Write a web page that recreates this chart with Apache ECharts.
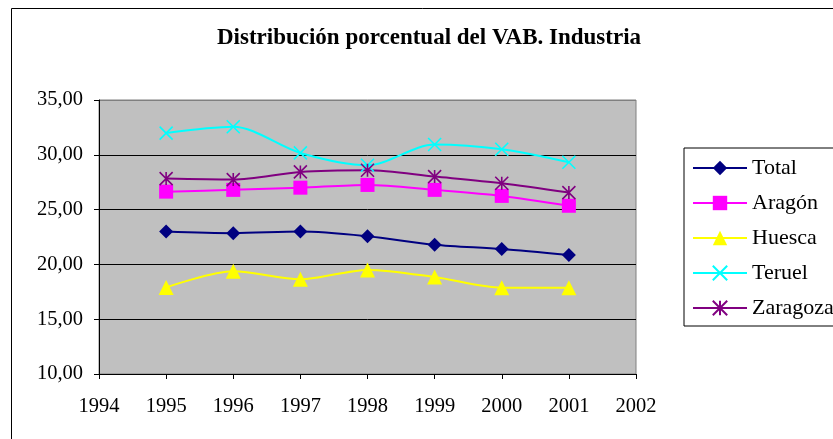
<!DOCTYPE html>
<html>
<head>
<meta charset="utf-8">
<script src="https://cdn.jsdelivr.net/npm/echarts@6/dist/echarts.min.js"></script>
<style>
  html, body { margin: 0; padding: 0; background: #fff; }
  #chart { width: 833px; height: 439px; }
</style>
</head>
<body>
<div id="chart"></div>
<script>
// years on the x value axis
const years = [1995, 1996, 1997, 1998, 1999, 2000, 2001]

const total = [23.0, 22.85, 23.0, 22.57, 21.8, 21.4, 20.85]
const aragon = [26.64, 26.8, 27.0, 27.25, 26.8, 26.25, 25.35]
const huesca = [17.9, 19.37, 18.64, 19.5, 18.85, 17.88, 17.88]
const teruel = [31.98, 32.56, 30.17, 29.05, 30.94, 30.51, 29.32]
const zaragoza = [27.83, 27.74, 28.44, 28.59, 28.01, 27.4, 26.55]

const FONT = '"Liberation Serif", "Times New Roman", serif'

const X_PATH = 'path://M0,0L10,10M10,0L0,10'
const STAR_PATH = 'path://M0,0L10,10M10,0L0,10M5,0L5,10'

function pairs(vals) {
  return years.map((y, i) => [y, vals[i]])
}

function makeSeries(name, vals, color, symbol, size, stroke) {
  return {
    name: name,
    type: 'line',
    data: pairs(vals),
    smooth: 0.3,
    symbol: symbol,
    symbolSize: size,
    showAllSymbol: true,
    lineStyle: { color: color, width: 2 },
    itemStyle: stroke
      ? { color: color, borderColor: color, borderWidth: 1.6 }
      : { color: color },
    emphasis: { disabled: true },
  }
}

const chart = echarts.init(document.getElementById('chart'))
const option = {
  animation: false,
  backgroundColor: '#fff',
  textStyle: { fontFamily: FONT },
  title: {
    text: 'Distribución porcentual del VAB. Industria',
    left: 424,
    top: 22,
    textAlign: 'center',
    textStyle: {
      fontFamily: FONT,
      fontWeight: 'bold',
      fontSize: 23,
      color: '#000',
    },
  },
  graphic: [
    {
      type: 'rect',
      shape: { x: 11.5, y: 8.5, width: 900, height: 500 },
      style: { fill: 'none', stroke: '#000', lineWidth: 1 },
      silent: true,
      z: 0,
    },
  ],
  legend: {
    orient: 'vertical',
    left: 684,
    top: 148,
    itemWidth: 54,
    itemHeight: 18,
    itemGap: 13,
    padding: [9, 10, 7, 8],
    borderColor: '#000',
    borderWidth: 1,
    textStyle: { fontFamily: FONT, fontSize: 22, color: '#000' },
    data: ['Total', 'Aragón', 'Huesca', 'Teruel', 'Zaragoza'],
  },
  grid: {
    left: 99,
    top: 100,
    width: 537,
    height: 274,
    show: true,
    backgroundColor: '#C0C0C0',
    borderColor: '#808080',
    borderWidth: 1,
  },
  xAxis: {
    type: 'value',
    min: 1994,
    max: 2002,
    interval: 1,
    axisLine: { lineStyle: { color: '#000', width: 1 } },
    axisTick: { show: true, length: 5, lineStyle: { color: '#000' } },
    axisLabel: {
      color: '#000',
      fontFamily: FONT,
      fontSize: 20.5,
      margin: 22,
      formatter: (v) => String(v),
    },
    splitLine: { show: false },
  },
  yAxis: {
    type: 'value',
    min: 10,
    max: 35,
    interval: 5,
    axisLine: { show: true, lineStyle: { color: '#000', width: 1 } },
    axisTick: { show: true, length: 5, lineStyle: { color: '#000' } },
    axisLabel: {
      color: '#000',
      fontFamily: FONT,
      fontSize: 20.5,
      margin: 16,
      formatter: (v) => v.toFixed(2).replace('.', ','),
    },
    splitLine: {
      show: true,
      lineStyle: {
        color: ['#000', '#000', '#000', '#000', '#000', '#808080'],
        width: 1,
      },
    },
  },
  series: [
    makeSeries('Total', total, '#000080', 'diamond', 14, false),
    makeSeries('Aragón', aragon, '#FF00FF', 'rect', 14, false),
    makeSeries('Huesca', huesca, '#FFFF00', 'triangle', 15, false),
    makeSeries('Teruel', teruel, '#00FFFF', X_PATH, 13, true),
    makeSeries('Zaragoza', zaragoza, '#800080', STAR_PATH, 13, true),
  ],
}
chart.setOption(option)
</script>
</body>
</html>
